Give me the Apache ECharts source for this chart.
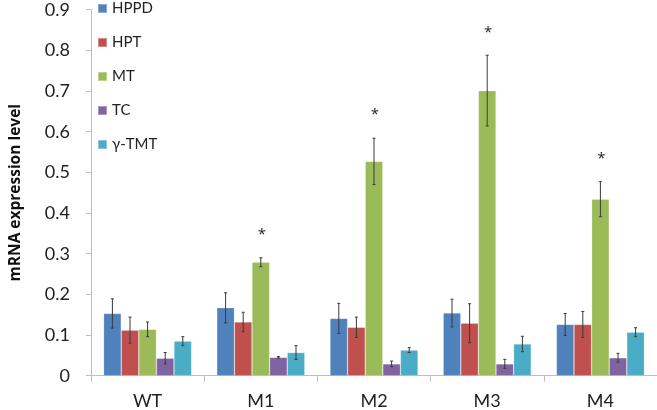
<!DOCTYPE html>
<html>
<head>
<meta charset="utf-8">
<script src="https://cdn.jsdelivr.net/npm/echarts@6/dist/echarts.min.js"></script>
<style>html,body{margin:0;padding:0;background:#fff;}#c{width:657px;height:410px;}</style>
</head>
<body>
<div id="c"></div>
<script>
var categories = ['WT', 'M1', 'M2', 'M3', 'M4'];
var seriesNames = ['HPPD', 'HPT', 'MT', 'TC', 'γ-TMT'];
var hppd = [0.153, 0.167, 0.141, 0.154, 0.126];
var hpt = [0.112, 0.132, 0.119, 0.129, 0.126];
var mt = [0.114, 0.279, 0.527, 0.701, 0.434];
var tc = [0.043, 0.045, 0.029, 0.029, 0.044];
var tmt = [0.085, 0.057, 0.063, 0.078, 0.107];
var hppdErr = [0.036, 0.037, 0.037, 0.034, 0.027];
var hptErr = [0.032, 0.024, 0.025, 0.048, 0.032];
var mtErr = [0.018, 0.011, 0.057, 0.087, 0.043];
var tcErr = [0.014, 0.002, 0.007, 0.011, 0.011];
var tmtErr = [0.011, 0.017, 0.006, 0.019, 0.011];
var mtStars = [false, true, true, true, true];
var yTicks = [0, 0.1, 0.2, 0.3, 0.4, 0.5, 0.6, 0.7, 0.8, 0.9];

var colors = ['#4F81BD', '#C0504D', '#9BBB59', '#8064A2', '#4BACC6'];
var values = [hppd, hpt, mt, tc, tmt];
var errs = [hppdErr, hptErr, mtErr, tcErr, tmtErr];
var stars = [null, null, mtStars, null, null];
var BW = 17.6;

var chart = echarts.init(document.getElementById('c'), null, {renderer: 'canvas'});
var series = [];
values.forEach(function (vals, si) {
  series.push({
    name: seriesNames[si], type: 'bar', data: vals, barWidth: BW, barGap: '0%',
    itemStyle: {color: colors[si], borderColor: 'rgba(255,255,255,0.35)', borderWidth: 0.6},
    silent: true
  });
});
values.forEach(function (vals, si) {
  var data = vals.map(function (v, i) { return [i, v, errs[si][i], stars[si] && stars[si][i] ? 1 : 0]; });
  series.push({
    type: 'custom', silent: true, z: 5,
    data: data,
    renderItem: function (params, api) {
      var i = api.value(0), v = api.value(1), e = api.value(2), s = api.value(3);
      var c = api.coord([i, v]);
      var x = c[0] + (si - 2) * BW;
      var top = api.coord([i, v + e])[1];
      var bot = api.coord([i, v - e])[1];
      var st = {stroke: '#3a3a3a', lineWidth: 1};
      var ch = [
        {type: 'line', shape: {x1: x, y1: top, x2: x, y2: bot}, style: st},
        {type: 'line', shape: {x1: x - 1.5, y1: top, x2: x + 1.5, y2: top}, style: st},
        {type: 'line', shape: {x1: x - 1.5, y1: bot, x2: x + 1.5, y2: bot}, style: st}
      ];
      if (s) {
        ch.push({type: 'text', style: {text: '*', x: x + 1, y: top - 23, align: 'center', verticalAlign: 'middle', fill: '#222', font: '15px "Open Sans", sans-serif'}});
      }
      return {type: 'group', children: ch};
    }
  });
});

chart.setOption({
  animation: false,
  backgroundColor: '#fff',
  legend: {
    orient: 'vertical', left: 92, top: -4,
    data: seriesNames,
    icon: 'rect', itemWidth: 9, itemHeight: 9, itemGap: 19,
    textStyle: {fontFamily: 'Lato, sans-serif', fontSize: 15, color: '#222'}
  },
  grid: {left: 82, right: 0, top: 9.7, bottom: 34.3},
  xAxis: {
    type: 'category', data: categories,
    axisLine: {lineStyle: {color: '#bfbfbf', width: 1}},
    axisTick: {show: true, length: 6, lineStyle: {color: '#bfbfbf'}},
    axisLabel: {fontFamily: 'Lato, sans-serif', fontSize: 18, color: '#222', margin: 16}
  },
  yAxis: {
    type: 'value', min: 0, max: 0.9, interval: 0.1,
    name: 'mRNA expression level', nameLocation: 'middle', nameGap: 67,
    nameTextStyle: {fontFamily: '"Open Sans", sans-serif', fontSize: 15.5, fontWeight: 'bold', color: '#111'},
    splitLine: {show: false},
    axisLine: {show: true, lineStyle: {color: '#bfbfbf', width: 1}},
    axisTick: {show: true, length: 5, lineStyle: {color: '#bfbfbf'}},
    axisLabel: {fontFamily: 'Lato, sans-serif', fontSize: 18, color: '#222', margin: 21,
      formatter: function (v) { var r = Math.round(v * 10) / 10; return yTicks.indexOf(r) >= 0 ? String(r) : ''; }}
  },
  series: series
});
</script>
</body>
</html>
